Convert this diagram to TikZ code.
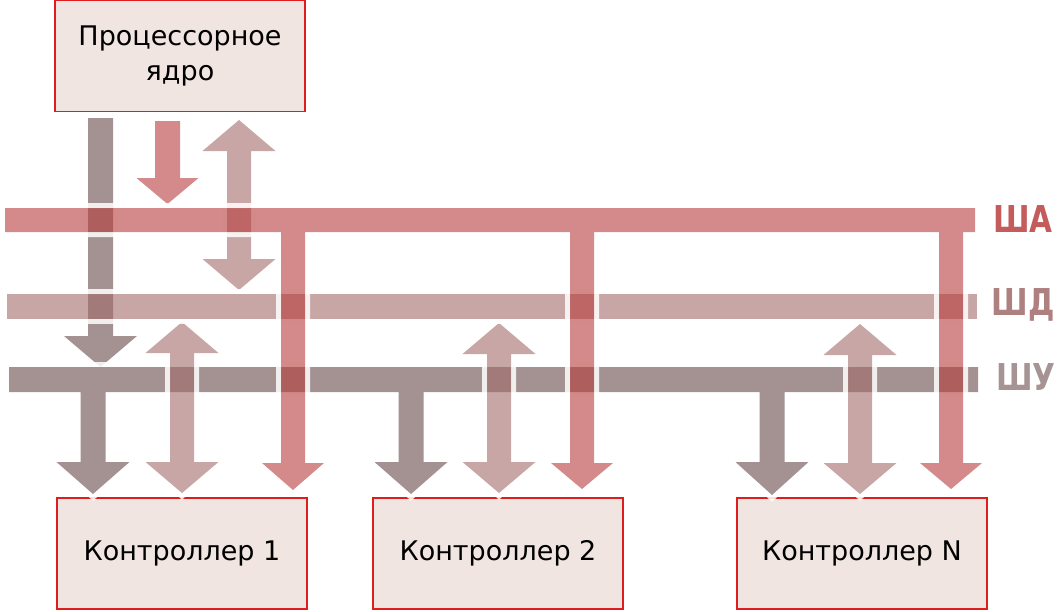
\documentclass[tikz,border=0pt]{standalone}
\usepackage{fontspec}
\usepackage{graphicx}
\setmainfont{DejaVu Sans}
\usetikzlibrary{positioning}

\definecolor{busA}{RGB}{183,60,60}
\definecolor{busD}{RGB}{163,107,107}
\definecolor{busC}{RGB}{103,73,73}
\definecolor{lblA}{RGB}{196,92,92}
\definecolor{lblD}{RGB}{174,128,128}
\definecolor{lblC}{RGB}{166,148,148}
\definecolor{boxfill}{RGB}{240,229,224}
\definecolor{boxline}{RGB}{222,30,30}

\tikzset{
  unit/.style={draw=boxline, line width=1.5pt, fill=boxfill, minimum width=250pt,
    minimum height=111pt, inner sep=0pt, align=center, font=\fontsize{27}{35}\selectfont},
  buslabel/.style={font=\fontsize{37}{37}\selectfont\bfseries, inner sep=0pt, anchor=base east},
  gapline/.style={draw=white, line width=10pt, opacity=.85, line join=miter},
  bandfill/.style={fill=#1, fill opacity=.6}
}

% arm going down: x, from, head, tip, stem half width, head half width
\newcommand\armdown[6]{-- ({#1-#5},#2) -- ({#1-#5},#3) -- ({#1-#6},#3) -- (#1,#4)
  -- ({#1+#6},#3) -- ({#1+#5},#3) -- ({#1+#5},#2)}
% double arrow: x, upper tip, lower tip
\newcommand\twoway[3]{(#1,#2) -- ({#1-36.5},{#2+31}) -- ({#1-12},{#2+31}) -- ({#1-12},{#3-31})
  -- ({#1-36.5},{#3-31}) -- (#1,#3) -- ({#1+36.5},{#3-31}) -- ({#1+12},{#3-31})
  -- ({#1+12},{#2+31}) -- ({#1+36.5},{#2+31}) -- cycle}
% filled band with a white gap round it
\newcommand\band[2]{%
  \begin{scope}
    \clip (-20,-20) -- (1080,-20) -- (1080,640) -- (-20,640) -- cycle #2;
    \path[gapline] #2;
  \end{scope}
  \path[bandfill=#1] #2;
}
\newcommand\narrow[1]{\scalebox{.8}[1]{#1}}

\begin{document}
\begin{tikzpicture}[x=1pt,y=-1pt]
\useasboundingbox (0,0) rectangle (1058,611);

% units
\node[unit] (cpu) at (180,56) {Процессорное\\ядро};
\node[unit] (c1) at (182,553.5) {Контроллер 1};
\node[unit] (c2) at (498,553.5) {Контроллер 2};
\node[unit] (cn) at (862,553.5) {Контроллер N};

% arrows from the core
\band{busC}{(88,118) \armdown{100.5}{118}{336}{367}{12.5}{36.5} -- cycle}
\band{busD}{\twoway{239}{120}{290}}
\band{busA}{(155,121) \armdown{167.5}{121}{178}{204}{12.5}{31} -- cycle}

% control bus
\band{busC}{(9,367) -- (9,392) \armdown{93}{392}{462}{494}{12.5}{36.5}
  \armdown{411}{392}{462}{494}{12.5}{36.5} \armdown{772}{392}{462}{495}{12.5}{36.5}
  -- (978,392) -- (978,367) -- cycle}

% data arrows to controllers
\band{busD}{\twoway{182}{322}{493}}
\band{busD}{\twoway{499}{323}{493}}
\band{busD}{\twoway{860}{324}{494}}

% data bus
\band{busD}{(7,294) -- (7,319) -- (977,319) -- (977,294) -- cycle}

% address bus
\band{busA}{(5,208) -- (5,232) \armdown{293}{232}{463}{490}{12}{31}
  \armdown{582}{232}{463}{489}{12}{31} \armdown{951}{232}{463}{489}{12}{31}
  -- (975,232) -- (975,208) -- cycle}

\node[buslabel, text=lblA] (la) at (1053,232) {\narrow{ША}};
\node[buslabel, text=lblD] (ld) at (1055,315) {\narrow{ШД}};
\node[buslabel, text=lblC] (lc) at (1056,390) {\narrow{ШУ}};
\end{tikzpicture}
\end{document}
